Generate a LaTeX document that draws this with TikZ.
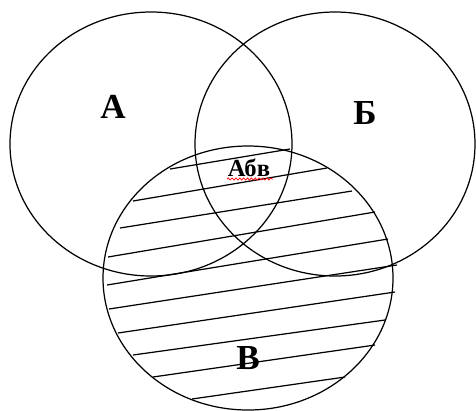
\documentclass[tikz,border=0pt]{standalone}
\usepackage{fontspec}
\setmainfont{Liberation Serif}
\usetikzlibrary{decorations.pathmorphing}

\begin{document}
\begin{tikzpicture}[x=0.02cm, y=-0.02cm, line width=0.7pt,
    % Define the style for the set names
    setlabel/.style={font=\bfseries\fontsize{20}{20}\selectfont, inner sep=0pt},
    % Define the style for the spell-check wave
    spellwave/.style={red, line width=0.4pt, decorate,
        decoration={snake, amplitude=0.6pt, segment length=2.2pt}}
]
\useasboundingbox (0,0) rectangle (476,410);

% Define the centres of the sets
\coordinate (A) at (151,144);
\coordinate (B) at (335,144);
\coordinate (C) at (248,278);

% Draw the sets
\draw (A) ellipse [x radius=141, y radius=132];
\draw (B) ellipse [x radius=140, y radius=132];
\draw (C) ellipse [x radius=145, y radius=132];

% Draw the hatching of set C
\foreach \xa/\ya/\xb/\yb in {170/169/290/149, 133/201/327/168,
    120/228/352/191, 108/257/375/212, 107/285/388/239,
    109/309/397/265, 118/333/395/292, 133/355/385/320,
    153/377/375/345, 192/399/345/377}
    \draw (\xa,\ya) -- (\xb,\yb);

% Add the set labels
\node[setlabel] (lA) at (113,107) {А};
\node[setlabel] (lB) at (365,113) {Б};
\node[setlabel] (lC) at (248,358) {В};
\node[font=\bfseries\fontsize{14}{14}\selectfont, inner sep=0pt] (lABC) at (249,168) {Абв};

% Draw the wave under the common part
\draw[spellwave] (227,179) -- (273,179);

\end{tikzpicture}
\end{document}
